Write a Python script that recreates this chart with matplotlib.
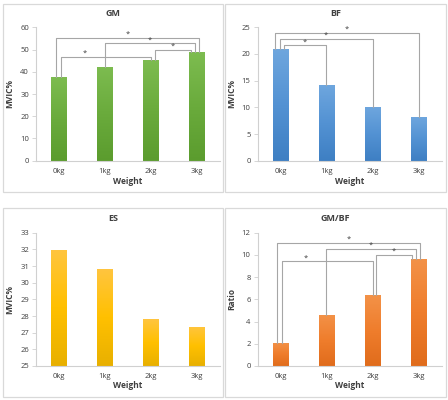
import matplotlib
matplotlib.use("Agg")
import matplotlib.pyplot as plt
import numpy as np
from matplotlib.colors import LinearSegmentedColormap
from matplotlib.patches import Rectangle

plt.rcParams['font.family'] = ['Open Sans', 'DejaVu Sans']

categories = ["0kg", "1kg", "2kg", "3kg"]
gm_values = [37.5, 42.3, 45.3, 49.0]
bf_values = [20.9, 14.1, 10.1, 8.1]
es_values = [31.98, 30.8, 27.82, 27.36]
ratio_values = [2.1, 4.62, 6.39, 9.66]

# significance brackets: (left bar, right bar, height)
gm_brackets = [(0, 3, 55.4), (1, 3, 52.8), (2, 3, 49.8), (0, 2, 46.8)]
bf_brackets = [(0, 3, 24.0), (0, 2, 22.9), (0, 1, 21.6)]
ratio_brackets = [(0, 3, 11.1), (1, 3, 10.53), (2, 3, 9.99), (0, 2, 9.42)]

# style: leg offsets in category units and star position (None = centre)
gm_style = [(-0.065, 0.05, None), (0.0, -0.04, None), (0.09, -0.14, None), (0.04, 0.01, 0.57)]
bf_style = [(-0.12, 0.0, None), (-0.02, 0.0, None), (0.08, -0.02, None)]
ratio_style = [(-0.08, 0.03, None), (-0.02, -0.06, None), (0.08, -0.14, None), (0.03, 0.0, 0.55)]

W, H = 448, 400
fig = plt.figure(figsize=(4.48, 4.0), dpi=100)


def px_rect(x0, y0, x1, y1):
    return [x0 / W, 1 - y1 / H, (x1 - x0) / W, (y1 - y0) / H]


# panel frames
for (x0, y0, x1, y1) in [(3, 4, 223, 192), (225, 4, 446, 192),
                         (3, 208, 223, 397), (225, 208, 446, 397)]:
    fig.patches.append(Rectangle((x0 / W, 1 - y1 / H), (x1 - x0) / W, (y1 - y0) / H,
                                 transform=fig.transFigure, fill=False,
                                 edgecolor="#d9d9d9", lw=0.9))


def panel(rect, values, ylim, yticks, stops, title, ylabel, box, brackets=None, style=None):
    ax = fig.add_axes(px_rect(*rect))
    x = np.arange(len(categories))
    cmap = LinearSegmentedColormap.from_list("g", stops)
    bars = ax.bar(x, values, width=0.33, color=stops[1], zorder=2)
    grad = np.linspace(0, 1, 256).reshape(-1, 1)
    for b in bars:
        x0 = b.get_x()
        x1 = x0 + b.get_width()
        h = b.get_height()
        im = ax.imshow(grad, extent=[x0, x1, ylim[0], h], aspect="auto",
                       cmap=cmap, zorder=2.5, origin="upper")
        im.set_clip_path(b)
    ax.set_xlim(-0.5, len(categories) - 0.5)
    ax.set_ylim(*ylim)
    ax.set_yticks(yticks)
    ax.set_xticks(x)
    ax.set_xticklabels(categories)
    for s in ["top", "right"]:
        ax.spines[s].set_visible(False)
    for s in ["left", "bottom"]:
        ax.spines[s].set_color("#d0d0d0")
        ax.spines[s].set_linewidth(0.8)
    ax.tick_params(axis="y", length=3, width=0.6, color="#d0d0d0", labelsize=5.5,
                   labelcolor="#404040", pad=2)
    ax.tick_params(axis="x", length=0, labelsize=5.5, labelcolor="#404040", pad=5)
    if brackets:
        for (i, j, hgt), (dl, dr, sx) in zip(brackets, style):
            xl = i + dl
            xr = j + dr
            ax.plot([xl, xl, xr, xr], [values[i], hgt, hgt, values[j]],
                    color="#a6a6a6", lw=0.8, zorder=3, clip_on=False)
            star_x = (xl + xr) / 2 if sx is None else sx
            ax.text(star_x, hgt, "*", ha="center", va="bottom",
                    fontsize=5.5, color="#404040", zorder=4)
    bx0, by0, bx1, by1 = box
    ax_cx = (rect[0] + rect[2]) / 2
    ax_cy = (rect[1] + rect[3]) / 2
    fig.text(((bx0 + bx1) / 2) / W, 1 - (by0 + 10) / H, title, ha="center", va="center",
             fontsize=6.5, fontweight="bold", color="#404040")
    fig.text(ax_cx / W, 1 - (by1 - 11) / H, "Weight", ha="center", va="center",
             fontsize=6, fontweight="bold", color="#404040")
    fig.text((bx0 + 7) / W, 1 - ax_cy / H, ylabel, ha="center", va="center",
             rotation=90, fontsize=6, fontweight="bold", color="#404040")
    return ax


panel((36, 27.3, 220, 160.7), gm_values, (0, 60), range(0, 61, 10),
      ["#7dbc50", "#6aab3c", "#5b9c2e"], "GM", "MVIC%", (3, 4, 223, 192),
      gm_brackets, gm_style)
panel((257.5, 27.3, 441.5, 160.7), bf_values, (0, 25), range(0, 26, 5),
      ["#6ea6de", "#5392d3", "#3e7fc3"], "BF", "MVIC%", (225, 4, 446, 192),
      bf_brackets, bf_style)
panel((36, 232.7, 220, 366), es_values, (25, 33), range(25, 34, 1),
      ["#ffc53f", "#ffc000", "#e8b000"], "ES", "MVIC%", (3, 208, 223, 397))
panel((257.5, 232.7, 441.5, 366), ratio_values, (0, 12), range(0, 13, 2),
      ["#f39248", "#ef7d2c", "#e06c1c"], "GM/BF", "Ratio", (225, 208, 446, 397),
      ratio_brackets, ratio_style)

fig.savefig("out.png", dpi=100, facecolor="white")
